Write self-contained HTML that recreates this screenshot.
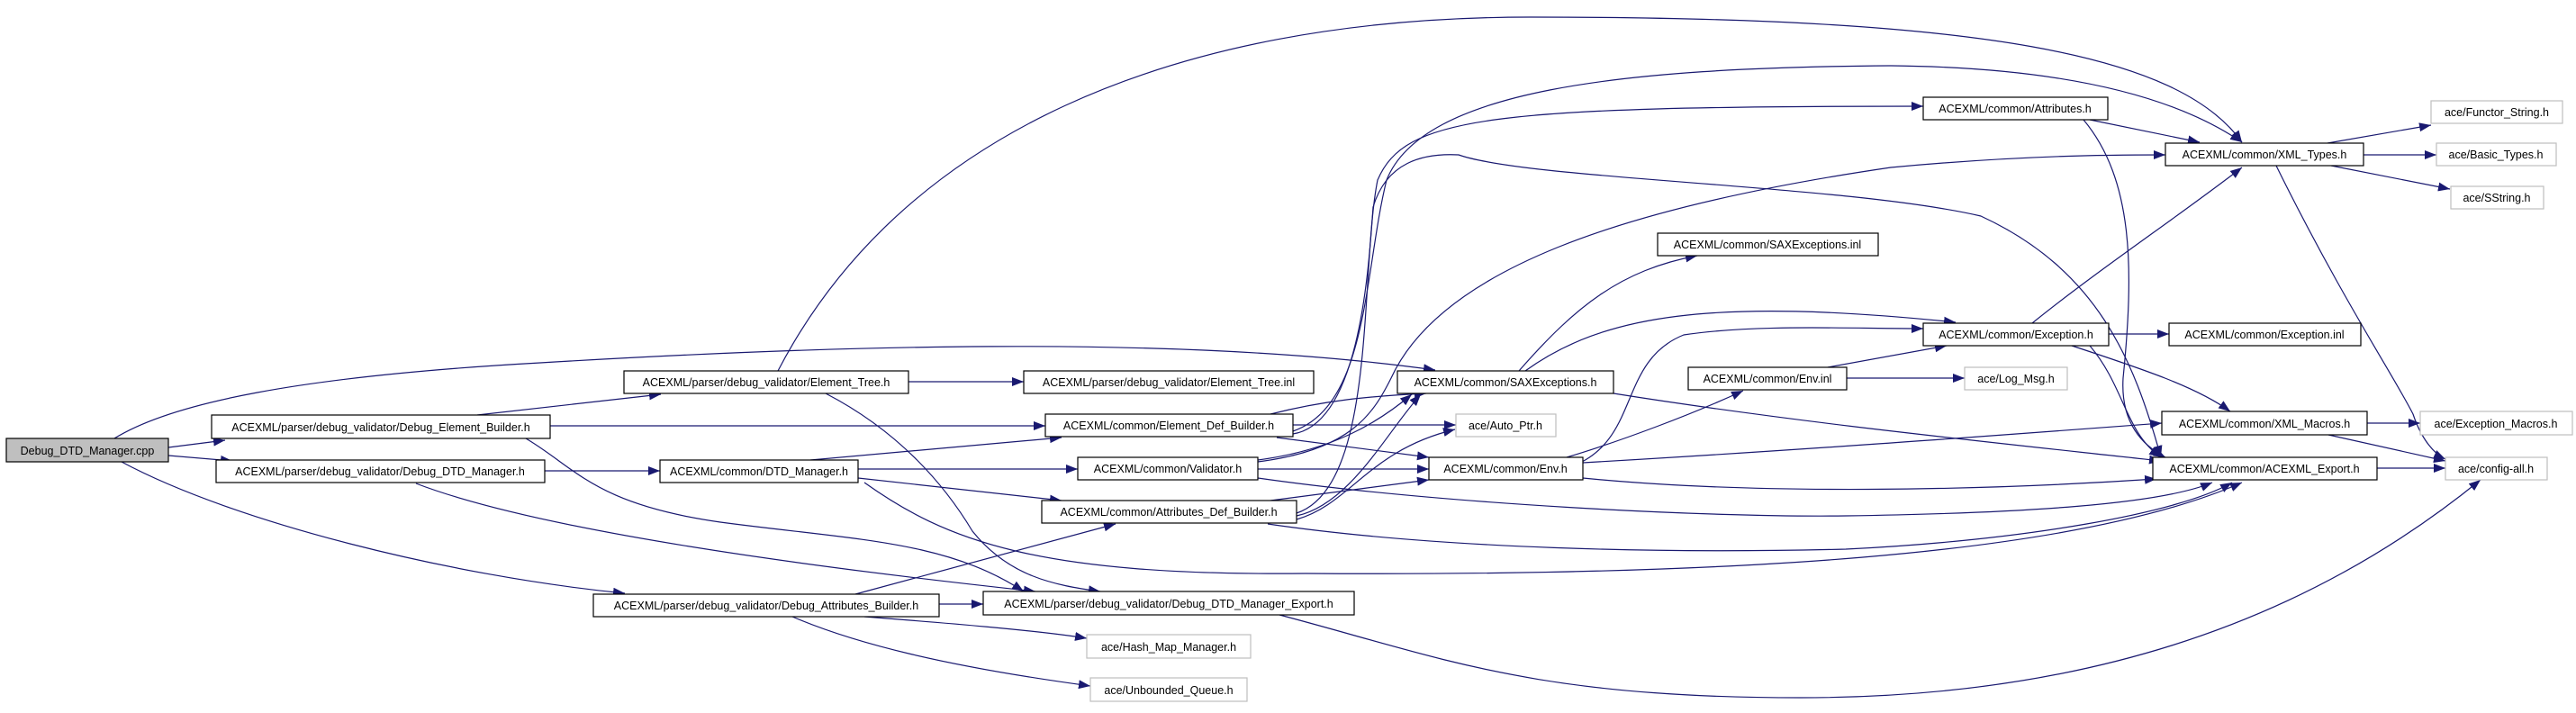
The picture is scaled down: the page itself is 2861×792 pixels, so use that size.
<!DOCTYPE html>
<html><head><meta charset="utf-8"><style>
html,body{margin:0;padding:0;background:#fff;}
svg{display:block;}
text{font-family:"Liberation Sans",sans-serif;font-size:12.5px;fill:#000;}
.n{fill:#fff;stroke:#000;stroke-width:1.2;}
.g{fill:#fff;stroke:#bfbfbf;stroke-width:1.2;}
.e{fill:none;stroke:#191970;stroke-width:1.2;marker-end:url(#a);}
</style></head><body>
<svg width="2861" height="792" viewBox="0 0 2861 792" xmlns="http://www.w3.org/2000/svg">
<defs><marker id="a" markerUnits="userSpaceOnUse" markerWidth="14" markerHeight="10" refX="13" refY="5" orient="auto"><path d="M0,0 L13,5 L0,10 z" fill="#191970"/></marker></defs>
<g>
<path class="e" d="M187,497 L250,489"/>
<path class="e" d="M187,506 L258,512"/>
<path class="e" d="M127,487 C190,448 330,418 600,403 C900,385 1300,370 1594,411"/>
<path class="e" d="M135,513 C260,580 500,640 694,659"/>
<path class="e" d="M530,461 L734,438"/>
<path class="e" d="M611,473 L1161,473"/>
<path class="e" d="M584,487 C640,520 660,560 800,580 C950,600 1050,600 1137,657"/>
<path class="e" d="M462,537 C600,590 900,630 1150,657"/>
<path class="e" d="M917,437 C1000,480 1050,540 1080,590 C1120,640 1170,650 1222,657"/>
<path class="e" d="M1043,671 L1092,671"/>
<path class="e" d="M1009,424 L1137,424"/>
<path class="e" d="M864,412 C1000,150 1300,19 1700,19 C2200,19 2420,60 2490,158"/>
<path class="e" d="M605,523 L733,523"/>
<path class="e" d="M900,511 L1179,486"/>
<path class="e" d="M953,521 L1197,521"/>
<path class="e" d="M953,531 L1179,556"/>
<path class="e" d="M960,536 C1050,600 1150,640 1450,637 C1900,640 2300,620 2490,536"/>
<path class="e" d="M950,660 L1239,582"/>
<path class="e" d="M960,685 C1050,692 1150,700 1207,709"/>
<path class="e" d="M880,685 C950,715 1050,740 1211,762"/>
<path class="e" d="M1411,460 C1470,445 1520,440 1584,437"/>
<path class="e" d="M1436,472 L1617,472"/>
<path class="e" d="M1418,486 L1587,508"/>
<path class="e" d="M1436,479 C1520,450 1515,300 1540,200 C1580,100 1800,75 2100,73 C2300,75 2420,110 2490,158"/>
<path class="e" d="M1440,570 C1530,540 1510,300 1530,200 C1560,130 1650,118 2136,118"/>
<path class="e" d="M1397,513 C1500,500 1525,460 1545,420 C1600,300 1800,230 2100,186 C2250,172 2350,172 2405,172"/>
<path class="e" d="M1436,482 C1510,470 1520,300 1525,230 C1540,180 1580,170 1620,172 C1700,200 2050,205 2200,240 C2330,300 2370,400 2400,508"/>
<path class="e" d="M1397,511 C1480,500 1530,470 1568,438"/>
<path class="e" d="M1440,573 C1500,560 1540,480 1578,438"/>
<path class="e" d="M1440,577 C1500,560 1520,500 1616,477"/>
<path class="e" d="M1411,556 L1587,533"/>
<path class="e" d="M1397,521 L1587,521"/>
<path class="e" d="M1687,412 C1750,340 1800,300 1885,284"/>
<path class="e" d="M1694,412 C1780,350 1900,330 2172,358"/>
<path class="e" d="M1740,508 C1800,490 1880,460 1936,434"/>
<path class="e" d="M1757,513 C1820,480 1800,400 1870,372 C1950,360 2050,365 2136,365"/>
<path class="e" d="M2030,408 L2162,384"/>
<path class="e" d="M2051,420 L2182,420"/>
<path class="e" d="M2342,371 L2409,371"/>
<path class="e" d="M2257,359 C2330,300 2420,240 2490,186"/>
<path class="e" d="M2301,384 C2380,410 2440,430 2477,457"/>
<path class="e" d="M2321,384 C2360,430 2360,480 2400,508"/>
<path class="e" d="M2321,133 L2443,158"/>
<path class="e" d="M2314,133 C2370,200 2370,300 2358,420 C2355,470 2380,495 2405,508"/>
<path class="e" d="M2585,159 L2700,139"/>
<path class="e" d="M2625,172 L2706,172"/>
<path class="e" d="M2589,184 L2721,210"/>
<path class="e" d="M2528,184 C2600,330 2660,420 2680,460 C2690,490 2705,505 2716,510"/>
<path class="e" d="M1758,514 C2000,500 2200,485 2401,470"/>
<path class="e" d="M1792,437 C2000,470 2200,490 2400,512"/>
<path class="e" d="M1758,531 C1950,550 2200,545 2395,532"/>
<path class="e" d="M1397,531 C1600,560 1900,575 2050,573 C2250,570 2400,560 2457,536"/>
<path class="e" d="M1408,582 C1600,610 1850,615 2050,610 C2250,600 2420,570 2479,536"/>
<path class="e" d="M2629,470 L2688,470"/>
<path class="e" d="M2586,483 L2716,512"/>
<path class="e" d="M2640,520 L2716,520"/>
<path class="e" d="M1421,683 C1600,730 1700,775 2000,775 C2300,775 2550,700 2755,533"/>
</g>
<g text-anchor="middle">
<rect x="7" y="487" width="180" height="26" fill="#bfbfbf" stroke="#000" stroke-width="1.2"/><text x="97" y="505">Debug_DTD_Manager.cpp</text>
<rect class="n" x="235" y="461" width="376" height="26"/><text x="423" y="479">ACEXML/parser/debug_validator/Debug_Element_Builder.h</text>
<rect class="n" x="240" y="511" width="365" height="25"/><text x="422" y="528">ACEXML/parser/debug_validator/Debug_DTD_Manager.h</text>
<rect class="n" x="659" y="660" width="384" height="25"/><text x="851" y="677">ACEXML/parser/debug_validator/Debug_Attributes_Builder.h</text>
<rect class="n" x="693" y="412" width="316" height="25"/><text x="851" y="429">ACEXML/parser/debug_validator/Element_Tree.h</text>
<rect class="n" x="1137" y="412" width="322" height="25"/><text x="1298" y="429">ACEXML/parser/debug_validator/Element_Tree.inl</text>
<rect class="n" x="733" y="511" width="220" height="25"/><text x="843" y="528">ACEXML/common/DTD_Manager.h</text>
<rect class="n" x="1161" y="460" width="275" height="25"/><text x="1298" y="477">ACEXML/common/Element_Def_Builder.h</text>
<rect class="n" x="1197" y="508" width="200" height="25"/><text x="1297" y="525">ACEXML/common/Validator.h</text>
<rect class="n" x="1157" y="556" width="283" height="25"/><text x="1298" y="573">ACEXML/common/Attributes_Def_Builder.h</text>
<rect class="n" x="1092" y="657" width="412" height="26"/><text x="1298" y="675">ACEXML/parser/debug_validator/Debug_DTD_Manager_Export.h</text>
<rect class="g" x="1207" y="705" width="182" height="26"/><text x="1298" y="723">ace/Hash_Map_Manager.h</text>
<rect class="g" x="1211" y="753" width="174" height="26"/><text x="1298" y="771">ace/Unbounded_Queue.h</text>
<rect class="n" x="1552" y="412" width="240" height="25"/><text x="1672" y="429">ACEXML/common/SAXExceptions.h</text>
<rect class="g" x="1617" y="460" width="111" height="25"/><text x="1672" y="477">ace/Auto_Ptr.h</text>
<rect class="n" x="1587" y="508" width="171" height="25"/><text x="1672" y="525">ACEXML/common/Env.h</text>
<rect class="n" x="1841" y="259" width="245" height="25"/><text x="1963" y="276">ACEXML/common/SAXExceptions.inl</text>
<rect class="n" x="1875" y="408" width="176" height="25"/><text x="1963" y="425">ACEXML/common/Env.inl</text>
<rect class="g" x="2182" y="408" width="114" height="25"/><text x="2239" y="425">ace/Log_Msg.h</text>
<rect class="n" x="2136" y="108" width="205" height="25"/><text x="2238" y="125">ACEXML/common/Attributes.h</text>
<rect class="n" x="2136" y="359" width="206" height="25"/><text x="2239" y="376">ACEXML/common/Exception.h</text>
<rect class="n" x="2409" y="359" width="213" height="25"/><text x="2515" y="376">ACEXML/common/Exception.inl</text>
<rect class="n" x="2405" y="159" width="220" height="25"/><text x="2515" y="176">ACEXML/common/XML_Types.h</text>
<rect class="n" x="2401" y="457" width="228" height="26"/><text x="2515" y="475">ACEXML/common/XML_Macros.h</text>
<rect class="n" x="2391" y="508" width="249" height="25"/><text x="2515" y="525">ACEXML/common/ACEXML_Export.h</text>
<rect class="g" x="2700" y="112" width="146" height="25"/><text x="2773" y="129">ace/Functor_String.h</text>
<rect class="g" x="2706" y="159" width="133" height="25"/><text x="2772" y="176">ace/Basic_Types.h</text>
<rect class="g" x="2722" y="207" width="103" height="25"/><text x="2773" y="224">ace/SString.h</text>
<rect class="g" x="2688" y="457" width="169" height="26"/><text x="2772" y="475">ace/Exception_Macros.h</text>
<rect class="g" x="2716" y="508" width="113" height="25"/><text x="2772" y="525">ace/config-all.h</text>
</g>
</svg>
</body></html>
